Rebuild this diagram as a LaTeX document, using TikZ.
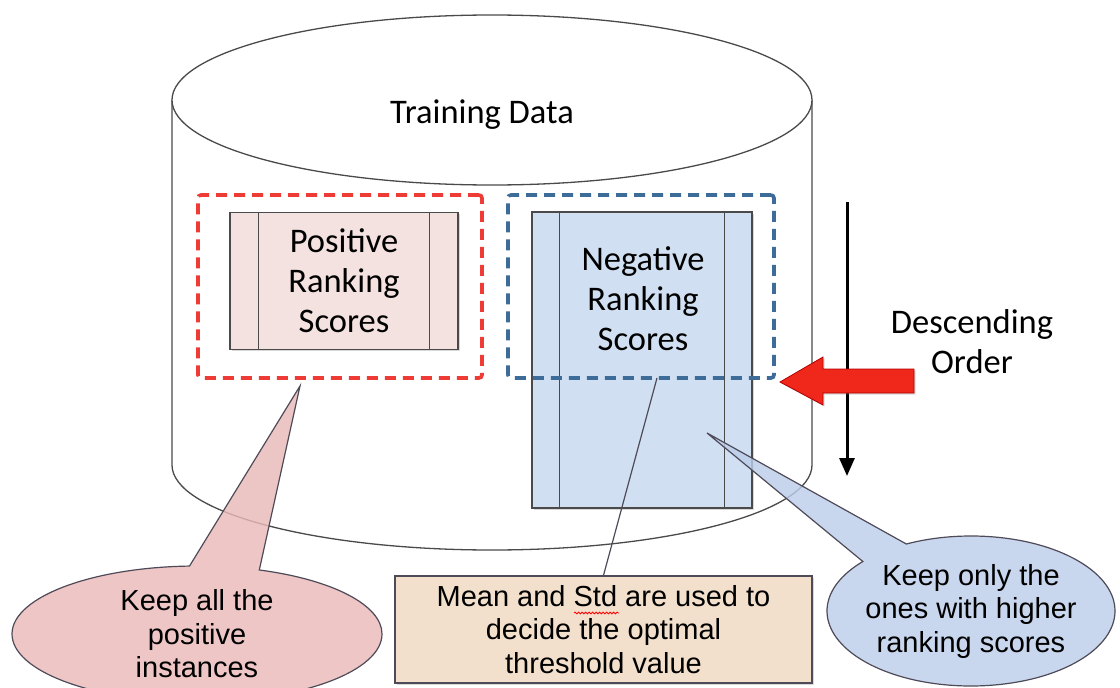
\documentclass[tikz,border=0pt]{standalone}
\usepackage{fontspec}
\setmainfont{Carlito}
\newfontfamily\arialf{Liberation Sans}
\usetikzlibrary{shapes.callouts,shapes.geometric,shadows,arrows.meta,decorations.pathmorphing,calc}
\definecolor{posfill}{HTML}{F4E2E0}
\definecolor{negfill}{HTML}{D0DFF1}
\definecolor{boxline}{HTML}{4A4A4A}
\definecolor{reddash}{HTML}{EE3B35}
\definecolor{bluedash}{HTML}{3E6C98}
\definecolor{redarrow}{HTML}{F0281C}
\definecolor{keepfill}{HTML}{E9BAB8}
\definecolor{keepblue}{HTML}{BCCDEA}
\definecolor{meanfill}{HTML}{F3E0CC}
\definecolor{callline}{HTML}{4E4A58}
\begin{document}
\begin{tikzpicture}[x=1pt,y=-1pt,
  cylline/.style={draw=boxline,line width=1.3},
  bigtext/.style={font=\fontsize{34.5}{40}\selectfont,align=center,inner sep=0},
  smalltext/.style={font=\arialf\fontsize{29}{33.5}\selectfont,align=center},
  scorebox/.style={draw=boxline,line width=1.3,inner sep=0,
    drop shadow={shadow xshift=1.5pt,shadow yshift=-1.5pt,opacity=0.3}},
  groupbox/.style={line width=3.6,dash pattern=on 11pt off 7pt,rounded corners=3,inner sep=0},
  keepcall/.style={ellipse callout,draw=callline,line width=1.2,fill opacity=0.82,text opacity=1,
    smalltext,callout pointer arc=22},
  meanbox/.style={draw=callline,line width=1.3,fill=meanfill,smalltext,inner sep=0,
    drop shadow={shadow xshift=1.5pt,shadow yshift=-1.5pt,opacity=0.3}}
]
\useasboundingbox (0,0) rectangle (1120,688);
% cylinder
\draw[cylline,fill=white] (172,100) -- (172,465) arc[start angle=180,end angle=0,x radius=320,y radius=85] -- (812,100);
\draw[cylline,fill=white] (492,100) ellipse [x radius=320, y radius=85];
\node[bigtext] (training) at (482,115) {Training Data};
% positive scores
\node[scorebox,fill=posfill,minimum width=228,minimum height=137,bigtext] (pos) at (344,281) {Positive\\Ranking\\Scores};
\draw[boxline,line width=1.3] ([xshift=29pt]pos.north west) -- ([xshift=29pt]pos.south west);
\draw[boxline,line width=1.3] ([xshift=-29pt]pos.north east) -- ([xshift=-29pt]pos.south east);
% negative scores
\node[scorebox,fill=negfill,minimum width=220,minimum height=296] (neg) at (642,360) {};
\draw[boxline,line width=1.3] ([xshift=28pt]neg.north west) -- ([xshift=28pt]neg.south west);
\draw[boxline,line width=1.3] ([xshift=-28pt]neg.north east) -- ([xshift=-28pt]neg.south east);
\node[bigtext] (negtext) at (643,299) {Negative\\Ranking\\Scores};
% dashed groups
\node[groupbox,draw=reddash,minimum width=284,minimum height=183] (posgroup) at (340,286.5) {};
\node[groupbox,draw=bluedash,minimum width=266,minimum height=183] (neggroup) at (641,286.5) {};
% descending order arrow
\coordinate (dtop) at (847,202);
\coordinate (dbot) at (847,476);
\draw[line width=3,-{Triangle[width=15pt,length=18pt]}] (dtop) -- (dbot);
\node[bigtext] (desc) at (972,342) {Descending\\Order};
% red block arrow
\draw[draw=red!70!black,line width=0.8,fill=redarrow,
  drop shadow={shadow xshift=1.5pt,shadow yshift=-1.5pt,opacity=0.3}]
  (780,382) -- (823,357) -- (823,369) -- (914,369) -- (914,393) -- (823,393) -- (823,405) -- cycle;
% mean box and its line
\node[meanbox,minimum width=417,minimum height=107] (mean) at (603.5,629.5) {Mean and Std are used to\\decide the optimal\\threshold value};
\draw[red,line width=0.8,decorate,decoration={snake,amplitude=0.9pt,segment length=3.5pt}] (574,613) -- (619,613);
\coordinate (negpoint) at (657,378);
\draw[callline,line width=1.2] (negpoint) -- (mean.north);
% callouts
\node[keepcall,fill=keepfill,callout absolute pointer={(300,386)},
  minimum width=370,minimum height=136,inner sep=0] (keepall) at (197,634) {Keep all the\\positive\\instances};
\node[keepcall,fill=keepblue,callout absolute pointer={(707,433)},
  minimum width=288,minimum height=150,inner xsep=-25pt,inner ysep=0pt] (keeponly) at (971,611) {Keep only the\\ones with higher\\ranking scores};
\end{tikzpicture}
\end{document}
